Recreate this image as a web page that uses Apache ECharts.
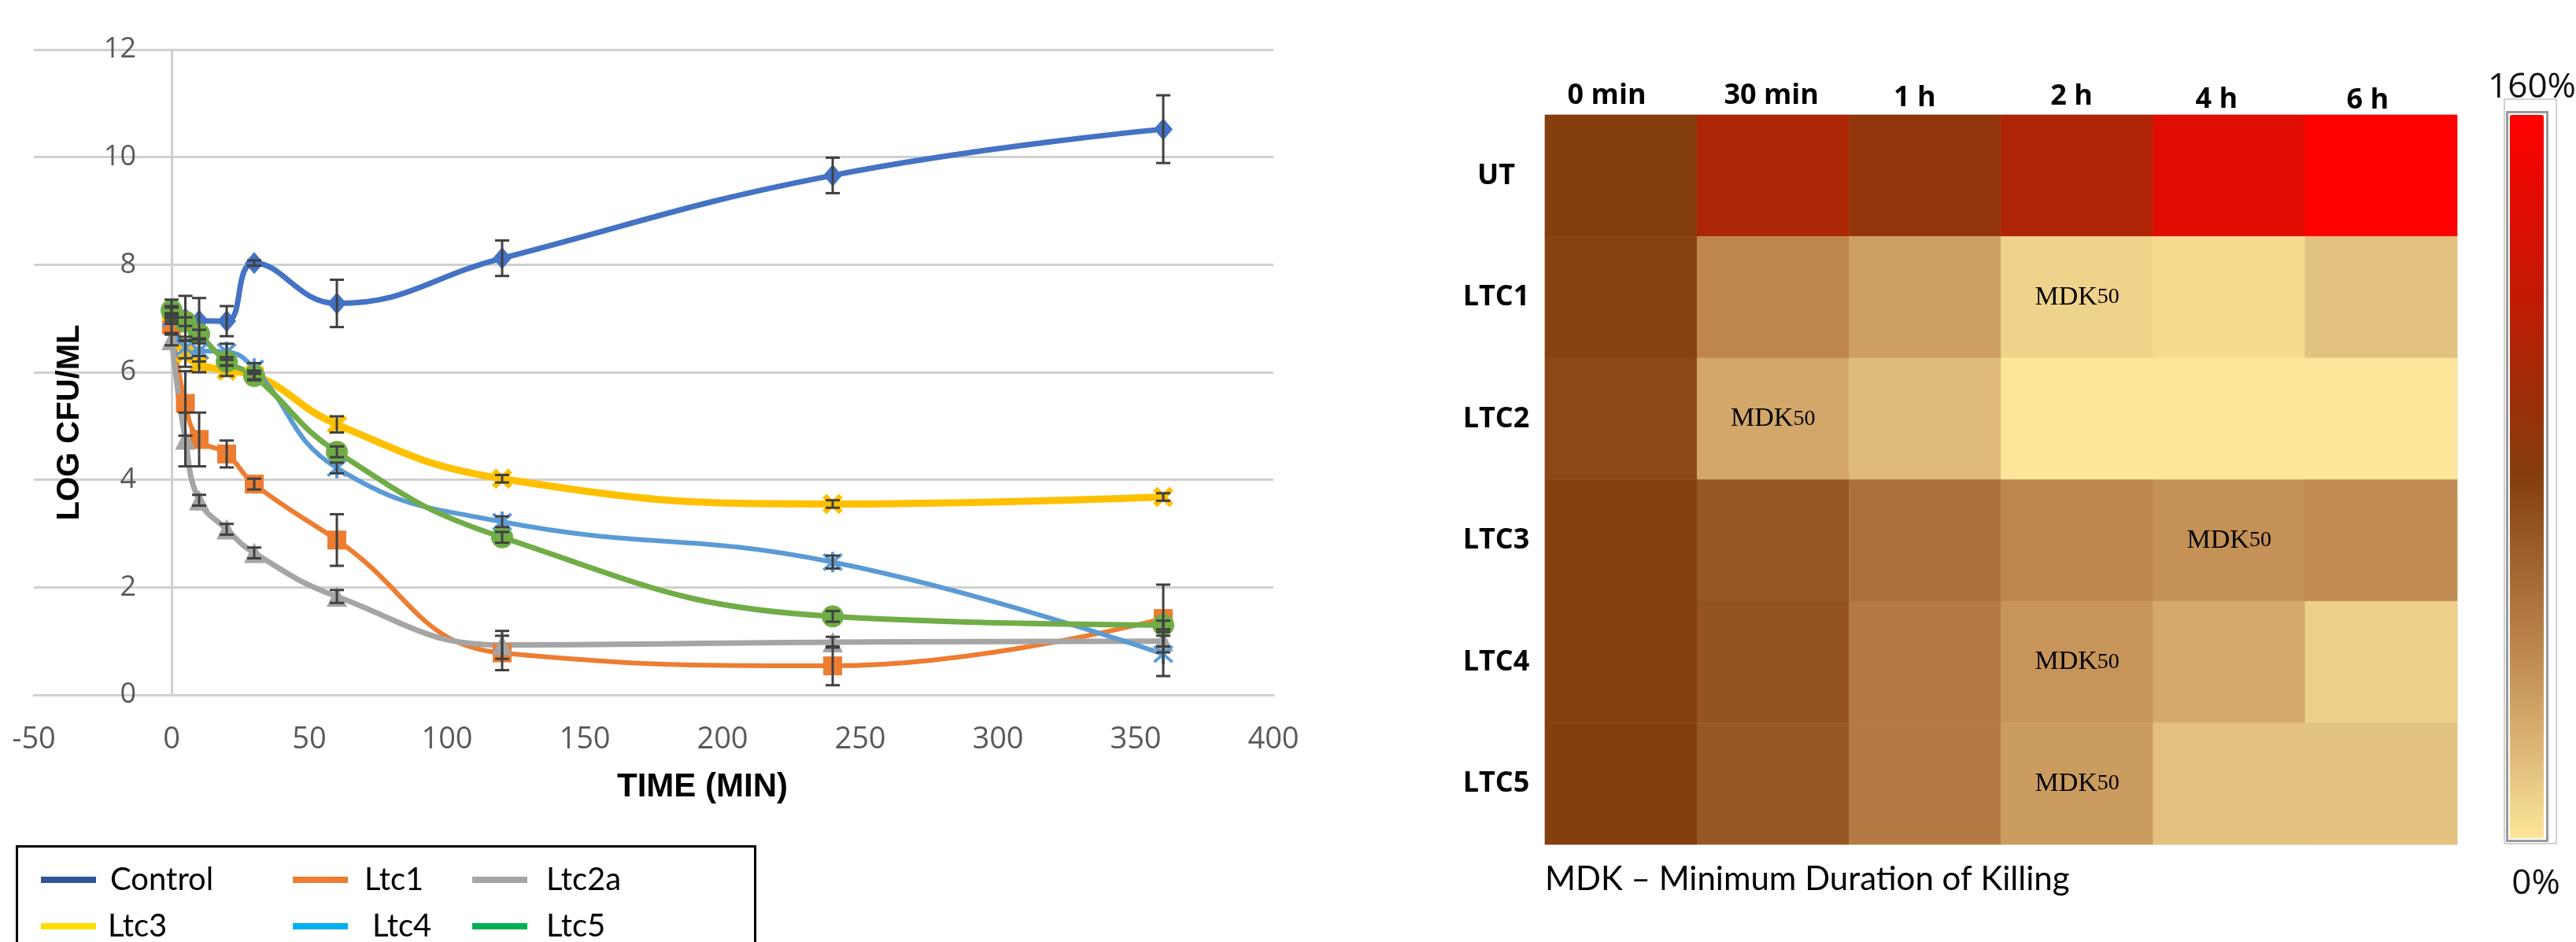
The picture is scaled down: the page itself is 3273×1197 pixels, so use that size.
<!DOCTYPE html>
<html><head><meta charset="utf-8">
<script src="https://cdn.jsdelivr.net/npm/echarts@6/dist/echarts.min.js"></script>
<style>html,body{margin:0;padding:0;background:#fff}#c{width:3273px;height:1197px}</style>
</head><body><div id="c"></div>
<script>
// ---------- Left chart data (log CFU/ml vs time) ----------
const times = [0, 5, 10, 20, 30, 60, 120, 240, 360];
const xTicks = [-50, 400, 50];           // min, max, step of time axis
const yTicks = [0, 12, 2];               // min, max, step of log axis
const seriesNames = ['Control', 'Ltc1', 'Ltc2a', 'Ltc3', 'Ltc4', 'Ltc5'];
const control = [7.15, 7.0, 6.96, 6.95, 8.03, 7.28, 8.12, 9.66, 10.52];
const ltc1    = [6.88, 5.42, 4.75, 4.48, 3.92, 2.88, 0.78, 0.54, 1.42];
const ltc2a   = [6.6, 4.75, 3.62, 3.08, 2.64, 1.83, 0.93, 0.98, 1.0];
const ltc3    = [7.1, 6.35, 6.15, 6.03, 5.95, 5.03, 4.02, 3.55, 3.68];
const ltc4    = [7.0, 6.46, 6.4, 6.38, 6.07, 4.22, 3.22, 2.47, 0.76];
const ltc5    = [7.15, 6.94, 6.71, 6.2, 5.93, 4.52, 2.93, 1.46, 1.3];
const errControl = [0.2, 0.42, 0.42, 0.28, 0.05, 0.44, 0.33, 0.33, 0.63];
const errLtc1    = [0.15, 0.6, 0.5, 0.25, 0.1, 0.48, 0.32, 0.36, 0.63];
const errLtc2a   = [0.1, 0.5, 0.1, 0.1, 0.1, 0.12, 0.26, 0.1, 0.1];
const errLtc3    = [0.1, 0.25, 0.15, 0.1, 0.08, 0.15, 0.07, 0.07, 0.07];
const errLtc4    = [0.1, 0.2, 0.2, 0.15, 0.1, 0.1, 0.1, 0.12, 0.41];
const errLtc5    = [0.08, 0.08, 0.08, 0.08, 0.08, 0.1, 0.1, 0.1, 0.08];

// ---------- Right chart data (heatmap, % of initial) ----------
const timeLabels = ['0 min', '30 min', '1 h', '2 h', '4 h', '6 h'];
const groups = ['UT', 'LTC1', 'LTC2', 'LTC3', 'LTC4', 'LTC5'];
const heatUT   = [80, 107, 90, 109, 140, 160];
const heatLTC1 = [78, 42, 30, 8, 5, 15];
const heatLTC2 = [75, 27, 18, 0, 0, 0];
const heatLTC3 = [79, 67, 54, 42, 37, 39];
const heatLTC4 = [79, 69, 48, 35, 26, 9];
const heatLTC5 = [80, 67, 48, 32, 16, 15];
const mdkCells = [[3, 1], [1, 2], [4, 3], [3, 4], [3, 5]]; // [timeIndex, groupIndex]
const scaleRange = [0, 160];
const scaleLabels = ['160%', '0%'];
const footnote = 'MDK – Minimum Duration of Killing';

// ---------- build ----------
const values = [control, ltc1, ltc2a, ltc3, ltc4, ltc5];
const errors = [errControl, errLtc1, errLtc2a, errLtc3, errLtc4, errLtc5];
const heatRows = [heatUT, heatLTC1, heatLTC2, heatLTC3, heatLTC4, heatLTC5];

const lineColors = ['#4472c4', '#ed7d31', '#a5a5a5', '#ffc000', '#5b9bd5', '#70ad47'];
const legendColors = ['#2f5597', '#ed7d31', '#a5a5a5', '#ffdd00', '#00b0f0', '#00b050'];
const XPATH = 'path://M2,0 L5,3 L8,0 L10,2 L7,5 L10,8 L8,10 L5,7 L2,10 L0,8 L3,5 L0,2 Z';
const STAR = 'path://M4.3,0 L5.7,0 L5.7,10 L4.3,10 Z M0.6,1.6 L1.6,0.6 L9.4,8.4 L8.4,9.4 Z M8.4,0.6 L9.4,1.6 L1.6,9.4 L0.6,8.4 Z';
const symbols = ['diamond', 'rect', 'triangle', XPATH, STAR, 'circle'];
const symbolSizes = [[24, 28], 24, 26, 26, 26, 28];
const lineWidths = [7, 6, 7, 9, 6, 7];

function errRender(params, api) {
  const x = api.value(0), lo = api.value(1), hi = api.value(2);
  const p1 = api.coord([x, lo]), p2 = api.coord([x, hi]);
  const w = 9;
  const style = { stroke: '#404040', lineWidth: 3, fill: null };
  return { type: 'group', children: [
    { type: 'line', shape: { x1: p1[0], y1: p1[1], x2: p2[0], y2: p2[1] }, style },
    { type: 'line', shape: { x1: p1[0] - w, y1: p1[1], x2: p1[0] + w, y2: p1[1] }, style },
    { type: 'line', shape: { x1: p2[0] - w, y1: p2[1], x2: p2[0] + w, y2: p2[1] }, style }
  ] };
}

const lineSeries = seriesNames.map((n, i) => ({
  name: n, type: 'line', xAxisIndex: 0, yAxisIndex: 0,
  data: times.map((t, k) => [t, values[i][k]]),
  smooth: 0.45, symbol: symbols[i], symbolSize: symbolSizes[i], showSymbol: true,
  lineStyle: { color: lineColors[i], width: lineWidths[i] },
  itemStyle: { color: lineColors[i] },
  emphasis: { disabled: true }
}));
const errSeries = seriesNames.map((n, i) => ({
  name: n, type: 'custom', xAxisIndex: 0, yAxisIndex: 0,
  data: times.map((t, k) => [t, values[i][k] - errors[i][k], values[i][k] + errors[i][k]]),
  renderItem: errRender, encode: { x: 0, y: [1, 2] }, z: 10, silent: true
}));

const heatData = [];
heatRows.forEach((row, r) => row.forEach((v, c) => heatData.push([c, r, v])));
const isMdk = (c, r) => mdkCells.some(m => m[0] === c && m[1] === r);

const legendPos = [[52, 1094], [372, 1094], [600, 1094], [52, 1153], [372, 1153], [600, 1153]];
const legendTextPad = [13, 16, 19, 10, 26, 19];
const legends = seriesNames.map((n, i) => ({
  left: legendPos[i][0], top: legendPos[i][1], padding: 0, icon: 'rect',
  itemWidth: 70, itemHeight: 8, selectedMode: false,
  data: [{ name: n, itemStyle: { color: legendColors[i], borderWidth: 0 } }],
  textStyle: { fontFamily: 'Lato', fontSize: 40, color: '#000', lineHeight: 48, padding: [0, 0, 0, legendTextPad[i]] }
}));

const headBase = { fontFamily: 'Open Sans', fontWeight: 'bold', fontSize: 36, lineHeight: 36, color: '#000' };
const headPad = [[0, 36, 13, 0], [0, 4, 13, 0], [0, 26, 7, 0], [0, 14, 10, 0], [0, 32, 3, 0], [0, 34, 0, 0]];
const headRich = {};
headPad.forEach((p, i) => { headRich['h' + i] = Object.assign({}, headBase, { padding: p }); });

const option = {
  animation: false,
  backgroundColor: '#fff',
  title: { text: footnote, left: 1963, top: 1096, padding: 0,
    textStyle: { fontFamily: 'Lato', fontWeight: 'normal', fontSize: 42, color: '#000' } },
  legend: legends,
  grid: [
    { left: 43, top: 63, width: 1575, height: 820, outerBoundsMode: 'none', containLabel: false },
    { left: 1963, top: 146, width: 1159, height: 927, show: true, borderColor: '#cfcfcf', borderWidth: 1, outerBoundsMode: 'none', containLabel: false }
  ],
  xAxis: [
    { type: 'value', gridIndex: 0, min: xTicks[0], max: xTicks[1], interval: xTicks[2],
      axisLine: { show: true, onZero: true, lineStyle: { color: '#d0d0d0', width: 3 } },
      axisTick: { show: false }, splitLine: { show: false },
      axisLabel: { fontFamily: 'Open Sans', fontSize: 38, color: '#595959', margin: 38 },
      name: 'TIME (MIN)', nameLocation: 'middle', nameGap: 96,
      nameTextStyle: { fontFamily: 'Liberation Sans', fontWeight: 'bold', fontSize: 42, color: '#000', padding: [0, 0, 0, 124] } },
    { type: 'category', gridIndex: 1, data: timeLabels, position: 'top',
      axisLine: { show: false }, axisTick: { show: false }, splitLine: { show: false },
      axisLabel: { margin: 0, interval: 0, formatter: (v, idx) => '{h' + idx + '|' + v + '}', rich: headRich } }
  ],
  yAxis: [
    { type: 'value', gridIndex: 0, min: yTicks[0], max: yTicks[1], interval: yTicks[2],
      axisLine: { show: true, onZero: true, lineStyle: { color: '#d0d0d0', width: 3 } },
      axisTick: { show: false },
      splitLine: { show: true, lineStyle: { color: '#d0d0d0', width: 3 } },
      axisLabel: { fontFamily: 'Open Sans', fontSize: 36, color: '#595959', margin: -130 },
      name: 'LOG CFU/ML', nameLocation: 'middle', nameGap: -66,
      nameTextStyle: { fontFamily: 'Liberation Sans', fontWeight: 'bold', fontSize: 40, color: '#000', padding: [0, 128, 0, 0] } },
    { type: 'category', gridIndex: 1, data: groups, inverse: true,
      axisLine: { show: false }, axisTick: { show: false }, splitLine: { show: false },
      axisLabel: { interval: 0, align: 'center', margin: 62, fontFamily: 'Open Sans', fontWeight: 'bold', fontSize: 36, color: '#000' } }
  ],
  visualMap: {
    type: 'continuous', min: scaleRange[0], max: scaleRange[1], seriesIndex: 12,
    calculable: false, hoverLink: false, orient: 'vertical',
    left: 3189, top: 146, itemWidth: 43, itemHeight: 919, padding: 0, text: null, showLabel: false,
    inRange: { color: ['#fde699', '#dcb676', '#c08a50', '#a06530', '#853e0e', '#a02c08', '#c21a02', '#e00c02', '#ff0000'] }
  },
  graphic: [
    { type: 'rect', left: 19, top: 1073, shape: { width: 938, height: 180 }, style: { fill: null, stroke: '#000', lineWidth: 3 }, silent: true },
    { type: 'rect', shape: { x: 3182, y: 126, width: 66, height: 946 }, style: { fill: null, stroke: '#c4c4c4', lineWidth: 1.5 }, silent: true, z: 5 },
    { type: 'rect', shape: { x: 3185.5, y: 142.5, width: 51, height: 926 }, style: { fill: null, stroke: '#9a9a9a', lineWidth: 3 }, silent: true, z: 5 },
    { type: 'text', x: 3217, y: 111, style: { text: scaleLabels[0], fontFamily: 'Open Sans', fontSize: 44, fill: '#111', align: 'center', verticalAlign: 'middle' }, z: 5 },
    { type: 'text', x: 3222, y: 1123, style: { text: scaleLabels[1], fontFamily: 'Open Sans', fontSize: 44, fill: '#111', align: 'center', verticalAlign: 'middle' }, z: 5 }
  ],
  series: lineSeries.concat(errSeries).concat([{
    name: 'heat', type: 'heatmap', xAxisIndex: 1, yAxisIndex: 1, data: heatData,
    emphasis: { disabled: true },
    itemStyle: { borderWidth: 0 },
    label: { show: true,
      formatter: p => isMdk(p.value[0], p.value[1]) ? '{a|MDK}{b|50}' : '',
      rich: { a: { fontFamily: 'Liberation Serif', fontSize: 34, color: '#000' },
              b: { fontFamily: 'Liberation Serif', fontSize: 28, color: '#000' } } }
  }])
};

const chart = echarts.init(document.getElementById('c'), null, { width: 3273, height: 1197 });
chart.setOption(option);
</script>
</body></html>
